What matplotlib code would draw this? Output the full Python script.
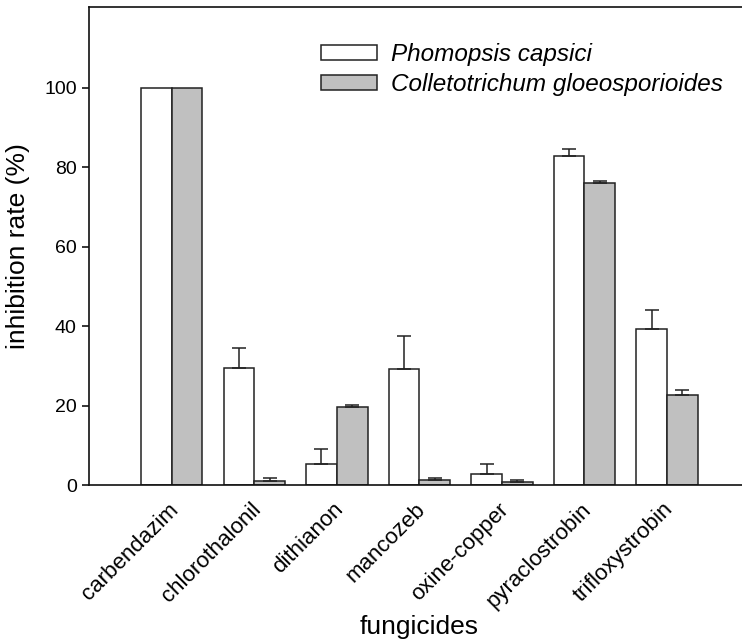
import numpy as np
import matplotlib
matplotlib.use("Agg")
import matplotlib.pyplot as plt
import matplotlib.transforms as mtransforms

plt.rcParams['font.family'] = ['Liberation Sans', 'DejaVu Sans']

# data
fungicides = ["carbendazim", "chlorothalonil", "dithianon", "mancozeb",
              "oxine-copper", "pyraclostrobin", "trifloxystrobin"]
phomopsis = [100.0, 29.5, 5.4, 29.3, 2.8, 82.9, 39.2]
phomopsis_err = [0.0, 4.9, 3.7, 8.2, 2.6, 1.8, 4.9]
colletotrichum = [100.0, 1.1, 19.7, 1.2, 0.7, 76.1, 22.7]
colletotrichum_err = [0.0, 0.7, 0.5, 0.5, 0.6, 0.4, 1.3]

fig = plt.figure(figsize=(7.42, 6.43), dpi=100)
ax = fig.add_axes([0.1203, 0.2457, 0.8898, 0.7429])

x = np.arange(len(fungicides))
w = 0.372
edge = '#222222'

ax.bar(x - w/2, phomopsis, w, color='white', edgecolor=edge, linewidth=1.1,
       label='Phomopsis capsici', zorder=2)
ax.bar(x + w/2, colletotrichum, w, color='#c0c0c0', edgecolor=edge, linewidth=1.1,
       label='Colletotrichum gloeosporioides', zorder=2)

# upper error bars only, skip the ones with no spread
for offs, vals, errs in [(-w/2, phomopsis, phomopsis_err),
                         (w/2, colletotrichum, colletotrichum_err)]:
    vals = np.array(vals)
    errs = np.array(errs)
    m = errs > 0
    ax.errorbar(x[m] + offs, vals[m], yerr=[np.zeros(m.sum()), errs[m]],
                fmt='none', ecolor=edge, elinewidth=1.1, capsize=5.3,
                capthick=1.1, zorder=3)

ax.set_xlim(-1, 7)
ax.set_ylim(0, 120.3)
ax.set_yticks([0, 20, 40, 60, 80, 100])
ax.tick_params(axis='y', labelsize=14, length=5, width=1.1, direction='out', pad=4)
ax.set_xticks(x)
ax.set_xticklabels(fungicides, rotation=45, ha='right', rotation_mode='anchor')
ax.tick_params(axis='x', labelsize=16, length=0, pad=10)
shift = mtransforms.ScaledTranslation(-4/100, 0, fig.dpi_scale_trans)
for lab in ax.get_xticklabels():
    lab.set_transform(lab.get_transform() + shift)

for s in ['left', 'bottom', 'top']:
    ax.spines[s].set_linewidth(1.2)
    ax.spines[s].set_color('#111111')
ax.spines['right'].set_visible(False)

ax.set_ylabel('inhibition rate (%)', fontsize=19, labelpad=10)
ax.set_xlabel('fungicides', fontsize=19, labelpad=2)

leg = ax.legend(loc='upper left', bbox_to_anchor=(321/742, 1 - 43/643),
                bbox_transform=fig.transFigure, frameon=False,
                prop={'size': 17.5, 'style': 'italic'},
                handlelength=2.3, handleheight=0.6, handletextpad=0.6,
                labelspacing=0.3, borderpad=0, borderaxespad=0)

fig.savefig('out.png', dpi=100)
